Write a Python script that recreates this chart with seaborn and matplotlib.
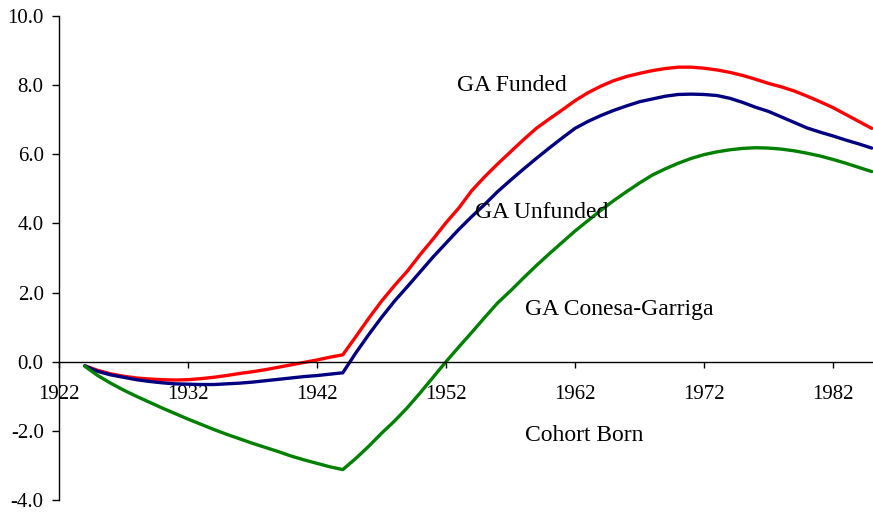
import matplotlib
matplotlib.use("Agg")
import matplotlib.pyplot as plt
import numpy as np
import pandas as pd
import seaborn as sns

# cohort birth years
years = list(range(1924, 1986))

# generational accounts, funded reform
ga_funded = [-0.12, -0.25, -0.35, -0.42, -0.47, -0.50, -0.52, -0.53, -0.52, -0.49,
             -0.45, -0.40, -0.34, -0.29, -0.23, -0.16, -0.09, -0.02, 0.05, 0.13,
             0.20, 0.72, 1.25, 1.75, 2.20, 2.62, 3.10, 3.55, 4.02, 4.45,
             4.95, 5.35, 5.72, 6.07, 6.42, 6.75, 7.02, 7.28, 7.55, 7.78,
             7.97, 8.13, 8.25, 8.34, 8.42, 8.48, 8.52, 8.52, 8.49, 8.44,
             8.37, 8.28, 8.17, 8.05, 7.95, 7.83, 7.68, 7.52, 7.35, 7.15,
             6.95, 6.75]

# generational accounts, unfunded reform
ga_unfunded = [-0.12, -0.28, -0.38, -0.45, -0.52, -0.57, -0.61, -0.64, -0.65, -0.66,
               -0.66, -0.64, -0.62, -0.59, -0.55, -0.51, -0.47, -0.43, -0.40, -0.36,
               -0.32, 0.25, 0.78, 1.28, 1.75, 2.17, 2.60, 3.03, 3.43, 3.83,
               4.20, 4.55, 4.92, 5.25, 5.57, 5.88, 6.18, 6.47, 6.75, 6.95,
               7.12, 7.27, 7.40, 7.52, 7.60, 7.68, 7.73, 7.74, 7.73, 7.70,
               7.62, 7.50, 7.36, 7.24, 7.08, 6.92, 6.76, 6.64, 6.53, 6.41,
               6.30, 6.18]

# generational accounts, Conesa-Garriga reform
ga_conesa = [-0.13, -0.40, -0.62, -0.82, -1.00, -1.17, -1.34, -1.50, -1.66, -1.81,
             -1.96, -2.10, -2.23, -2.36, -2.48, -2.60, -2.73, -2.84, -2.94, -3.04,
             -3.12, -2.80, -2.45, -2.07, -1.72, -1.33, -0.90, -0.45, 0.00, 0.43,
             0.85, 1.28, 1.70, 2.05, 2.42, 2.78, 3.12, 3.45, 3.78, 4.08,
             4.38, 4.66, 4.92, 5.17, 5.40, 5.58, 5.74, 5.88, 5.99, 6.07,
             6.13, 6.17, 6.19, 6.18, 6.15, 6.10, 6.03, 5.95, 5.85, 5.74,
             5.62, 5.50]

x_ticks = [1922, 1932, 1942, 1952, 1962, 1972, 1982]
y_ticks = [-4, -2, 0, 2, 4, 6, 8, 10]

sns.set_style("white")
plt.rcParams["font.family"] = ["Liberation Serif", "DejaVu Serif"]
plt.rcParams["axes.unicode_minus"] = False

fig = plt.figure(figsize=(8.73, 5.16), dpi=100)
ax = fig.add_axes([59 / 873, 16 / 516, 1 - 59 / 873, 484 / 516])

sns.lineplot(x=years, y=ga_funded, color="#ff0000", lw=2.4, ax=ax)
sns.lineplot(x=years, y=ga_unfunded, color="#000080", lw=2.4, ax=ax)
sns.lineplot(x=years, y=ga_conesa, color="#008000", lw=2.4, ax=ax)

ax.set_xlim(1922, 1985.1)
ax.set_ylim(-4, 10)
ax.set_xticks(x_ticks)
ax.set_yticks(y_ticks)
ax.set_yticklabels([f"{v:.1f}" for v in y_ticks])

ax.spines["top"].set_visible(False)
ax.spines["right"].set_visible(False)
ax.spines["bottom"].set_position(("data", 0))
for s in ("left", "bottom"):
    ax.spines[s].set_color("black")
    ax.spines[s].set_linewidth(1.0)

ax.tick_params(axis="y", direction="out", length=5, width=1, pad=6,
               labelsize=15, colors="black", left=True)
ax.tick_params(axis="x", direction="out", length=4, width=1, pad=13,
               labelsize=15, colors="black", bottom=True)

lab = dict(fontsize=17, color="black", va="center", ha="left")
ax.text(1952.85, 7.98, "GA Funded", **lab)
ax.text(1954.25, 4.31, "GA Unfunded", **lab)
ax.text(1958.1, 1.50, "GA Conesa-Garriga", **lab)
ax.text(1958.1, -2.14, "Cohort Born", **lab)

fig.savefig("out.png", dpi=100)
